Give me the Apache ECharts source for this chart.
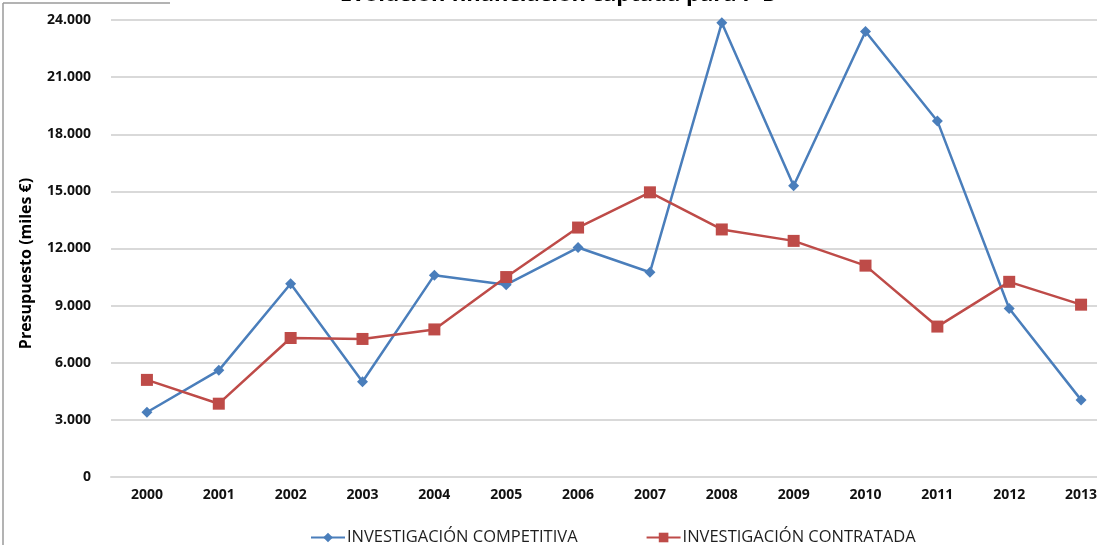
<!DOCTYPE html>
<html>
<head>
<meta charset="utf-8">
<script src="https://cdn.jsdelivr.net/npm/echarts@6/dist/echarts.min.js"></script>
<style>
  html, body { margin: 0; padding: 0; background: #fff; }
  #chart { width: 1097px; height: 545px; }
</style>
</head>
<body>
<div id="chart"></div>
<script>
// datos
const years = ['2000','2001','2002','2003','2004','2005','2006','2007','2008','2009','2010','2011','2012','2013'];
const competitiva = [3400, 5600, 10150, 5000, 10600, 10100, 12050, 10750, 23850, 15300, 23400, 18700, 8850, 4050];
const contratada = [5100, 3850, 7300, 7250, 7750, 10500, 13100, 14950, 13000, 12400, 11100, 7900, 10250, 9050];
const seriesNames = ['INVESTIGACIÓN COMPETITIVA', 'INVESTIGACIÓN CONTRATADA'];
const colorArr = ['#4a7ebb', '#be4b48'];

const font = '"Open Sans", "DejaVu Sans", sans-serif';

let myChart = echarts.init(document.getElementById('chart'));
myChart.setOption({
  animation: false,
  textStyle: { fontFamily: font },
  title: {
    text: 'Evolución financiación captada para I+D',
    left: 554,
    textAlign: 'center',
    top: -21,
    textStyle: { fontSize: 22, fontWeight: 'bold', color: '#000', fontFamily: font }
  },
  // marco recortado del grafico
  graphic: [
    { type: 'line', shape: { x1: 3, y1: 3, x2: 3, y2: 545 }, style: { stroke: '#9a9a9a', lineWidth: 1.5 } },
    { type: 'line', shape: { x1: 3, y1: 3, x2: 170, y2: 3 }, style: { stroke: '#9a9a9a', lineWidth: 1.5 } }
  ],
  legend: {
    data: seriesNames,
    bottom: -6,
    left: 305,
    itemWidth: 34,
    itemHeight: 12,
    itemGap: 68,
    textStyle: { fontSize: 16.5, color: '#1f1f1f', fontFamily: font, padding: [0, 0, 0, -3] }
  },
  grid: {
    left: 111,
    right: -20,
    top: 20,
    bottom: 68,
    containLabel: false,
    outerBoundsMode: 'none'
  },
  xAxis: {
    type: 'category',
    data: years,
    boundaryGap: true,
    axisLine: { show: true, lineStyle: { color: '#d9d9d9', width: 2 } },
    axisTick: { show: false },
    axisLabel: { margin: 11, fontSize: 14, fontWeight: 'bold', color: '#111', fontFamily: font }
  },
  yAxis: {
    type: 'value',
    min: 0,
    max: 24000,
    interval: 3000,
    name: 'Presupuesto (miles €)',
    nameLocation: 'middle',
    nameGap: 77,
    nameTextStyle: { fontSize: 16, fontWeight: 'bold', color: '#000', fontFamily: font, padding: [0, 30, 0, 0] },
    axisLine: { show: false },
    axisTick: { show: false },
    splitLine: { lineStyle: { color: '#d9d9d9', width: 2 } },
    axisLabel: {
      margin: 20,
      fontSize: 14,
      fontWeight: 'bold',
      color: '#111',
      fontFamily: font,
      formatter: function (v) {
        return String(v).replace(/\B(?=(\d{3})+(?!\d))/g, '.');
      }
    }
  },
  series: [
    {
      name: seriesNames[0],
      type: 'line',
      data: competitiva,
      symbol: 'diamond',
      symbolSize: 11,
      lineStyle: { color: colorArr[0], width: 2.5 },
      itemStyle: { color: colorArr[0] }
    },
    {
      name: seriesNames[1],
      type: 'line',
      data: contratada,
      symbol: 'rect',
      symbolSize: 12,
      lineStyle: { color: colorArr[1], width: 2.5 },
      itemStyle: { color: colorArr[1] }
    }
  ]
});
</script>
</body>
</html>
